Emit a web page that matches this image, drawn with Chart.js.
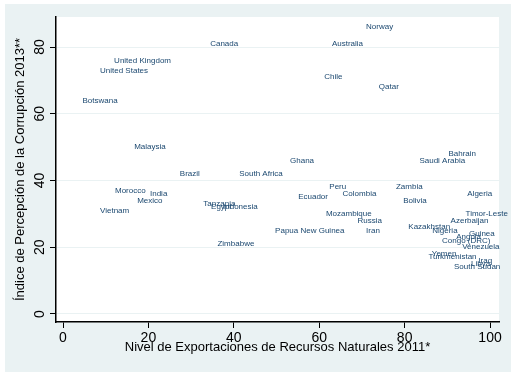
<!DOCTYPE html>
<html>
<head>
<meta charset="utf-8">
<script src="https://cdn.jsdelivr.net/npm/chart.js@4/dist/chart.umd.min.js"></script>
<style>
    html, body { margin: 0; padding: 0; background: #fff; }
    canvas { display: block; }
</style>
</head>
<body>
<canvas id="chart" width="516" height="378"></canvas>
<script>
// Datos: nivel de exportaciones de recursos naturales (x) vs. IPC 2013 (y)
const countries = [
    'Norway', 'Canada', 'Australia', 'United Kingdom', 'United States', 'Botswana',
    'Chile', 'Qatar', 'Malaysia', 'Brazil', 'South Africa', 'Ghana', 'Bahrain',
    'Saudi Arabia', 'Morocco', 'India', 'Mexico', 'Vietnam', 'Tanzania', 'Egypt',
    'Indonesia', 'Zimbabwe', 'Papua New Guinea', 'Peru', 'Colombia', 'Ecuador',
    'Mozambique', 'Russia', 'Iran', 'Zambia', 'Bolivia', 'Algeria', 'Timor-Leste',
    'Azerbaijan', 'Kazakhstan', 'Nigeria', 'Angola', 'Guinea', 'Congo (DRC)',
    'Venezuela', 'Yemen', 'Turkmenistan', 'Iraq', 'Libya', 'South Sudan'
];
const exportLevel = [
    70.5, 34.0, 62.5, 11.5, 8.2, 4.1,
    60.7, 73.5, 16.2, 26.9, 40.8, 52.7, 89.8,
    83.0, 11.7, 19.9, 16.9, 8.2, 32.4, 34.2,
    37.0, 35.7, 49.2, 61.9, 65.0, 54.6,
    61.1, 68.5, 70.5, 77.5, 79.2, 94.2, 93.8,
    90.3, 80.4, 86.0, 91.6, 94.6, 88.3,
    93.0, 85.9, 85.1, 96.8, 95.1, 91.1
];
const cpi2013 = [
    86, 81, 81, 76, 73, 64,
    71, 68, 50, 42, 42, 46, 48,
    46, 37, 36, 34, 31, 33, 32,
    32, 21, 25, 38, 36, 35,
    30, 28, 25, 38, 34, 36, 30,
    28, 26, 25, 23, 24, 22,
    20, 18, 17, 16, 15, 14
];
const xTicks = [0, 20, 40, 60, 80, 100];
const yTicks = [0, 20, 40, 60, 80];

const labelColor = '#1a476f';
const bgColor = '#eaf2f3';

// fondo estilo Stata: marco gris-azulado y región del gráfico blanca
const backdrop = {
    id: 'backdrop',
    beforeDraw(chart) {
        const { ctx, chartArea: a } = chart;
        ctx.save();
        ctx.fillStyle = '#fff';
        ctx.fillRect(0, 0, chart.width, chart.height);
        ctx.fillStyle = bgColor;
        ctx.fillRect(5, 4, 506, 368);
        ctx.fillStyle = '#fff';
        ctx.fillRect(a.left, a.top, a.right - a.left, a.bottom - a.top);
        ctx.restore();
    }
};

// etiquetas de país a la derecha de cada punto
const pointLabels = {
    id: 'pointLabels',
    afterDatasetsDraw(chart) {
        const { ctx } = chart;
        const meta = chart.getDatasetMeta(0);
        ctx.save();
        ctx.font = '8px "Liberation Sans", Arial, sans-serif';
        ctx.fillStyle = labelColor;
        ctx.textAlign = 'left';
        ctx.textBaseline = 'middle';
        meta.data.forEach((pt, i) => {
            ctx.fillText(countries[i], pt.x + 2, pt.y);
        });
        ctx.restore();
    }
};

const fontFamily = '"Liberation Sans", Arial, sans-serif';

new Chart(document.getElementById('chart'), {
    type: 'scatter',
    data: {
        datasets: [{
            data: exportLevel.map((x, i) => ({ x: x, y: cpi2013[i] })),
            pointRadius: 0,
            pointHoverRadius: 0
        }]
    },
    options: {
        responsive: false,
        animation: false,
        layout: { padding: { left: 0, top: 17, right: 17, bottom: 0 } },
        plugins: { legend: { display: false }, tooltip: { enabled: false } },
        scales: {
            x: {
                type: 'linear',
                min: -1.64,
                max: 102.1,
                afterBuildTicks: (s) => { s.ticks = xTicks.map(v => ({ value: v })); },
                afterFit: (s) => { s.height = 56; },
                grid: { drawOnChartArea: false, drawTicks: true, tickLength: 6, tickColor: '#000', tickWidth: 1 },
                border: { display: true, color: '#000', width: 1.5 },
                ticks: { color: '#000', padding: 2, font: { family: fontFamily, size: 14 }, maxRotation: 0 },
                title: {
                    display: true,
                    text: 'Nivel de Exportaciones de Recursos Naturales 2011*',
                    color: '#000',
                    font: { family: fontFamily, size: 13 },
                    padding: { top: 0, bottom: 23 }
                }
            },
            y: {
                type: 'linear',
                min: -2.4,
                max: 89,
                afterBuildTicks: (s) => { s.ticks = yTicks.map(v => ({ value: v })); },
                afterFit: (s) => { s.width = 56; },
                grid: { color: bgColor, lineWidth: 1, drawTicks: true, tickLength: 6, tickColor: '#000', tickWidth: 1 },
                border: { display: true, color: '#000', width: 1.5 },
                ticks: { color: '#000', padding: 2, minRotation: 90, maxRotation: 90, crossAlign: 'center', font: { family: fontFamily, size: 14 } },
                title: {
                    display: true,
                    text: 'Índice de Percepción de la Corrupción 2013**',
                    color: '#000',
                    font: { family: fontFamily, size: 13 },
                    padding: { top: 13, bottom: 0 }
                }
            }
        }
    },
    plugins: [backdrop, pointLabels]
});
</script>
</body>
</html>
